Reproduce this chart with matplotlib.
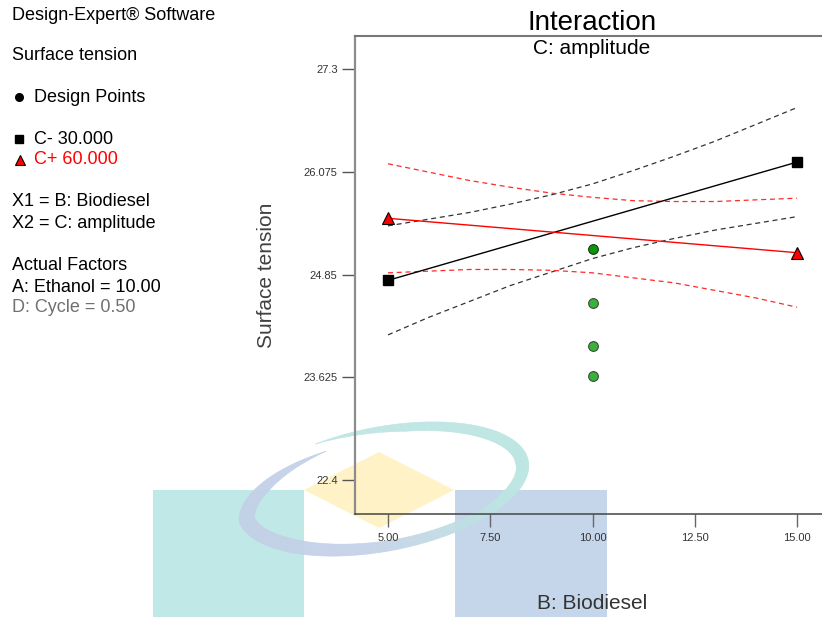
import numpy as np
import matplotlib
matplotlib.use("Agg")
import matplotlib.pyplot as plt
from matplotlib.patches import Rectangle, Polygon
from matplotlib.collections import PolyCollection

plt.rcParams['font.family'] = ['Liberation Sans', 'DejaVu Sans']

# ---- model predictions for the B x C interaction ----
biodiesel_ends = [5.0, 15.0]
c_minus_pred = [24.78, 26.19]   # C- = 30.000
c_plus_pred = [25.52, 25.11]    # C+ = 60.000

# 95% confidence bands along B
band_x = [5, 6, 7, 8, 9, 10, 11, 12, 13, 14, 15]
c_minus_upper = [25.43, 25.51, 25.59, 25.69, 25.80, 25.93, 26.09, 26.26, 26.44, 26.64, 26.84]
c_minus_lower = [24.13, 24.34, 24.53, 24.72, 24.88, 25.04, 25.17, 25.28, 25.38, 25.46, 25.54]
c_plus_upper = [26.17, 26.07, 25.97, 25.89, 25.82, 25.77, 25.73, 25.72, 25.72, 25.74, 25.76]
c_plus_lower = [24.87, 24.89, 24.91, 24.91, 24.90, 24.87, 24.81, 24.75, 24.66, 24.57, 24.46]

# observed design points (centre of B)
design_x = [10.0, 10.0, 10.0, 10.0]
design_y = [25.15, 24.51, 24.00, 23.64]

x_ticks = [5.00, 7.50, 10.00, 12.50, 15.00]
x_tick_labels = ["5.00", "7.50", "10.00", "12.50", "15.00"]
y_ticks = [22.4, 23.625, 24.85, 26.075, 27.3]
y_tick_labels = ["22.4", "23.625", "24.85", "26.075", "27.3"]

W, H = 822, 617
fig = plt.figure(figsize=(W / 100, H / 100), dpi=100)

# ---- background layer (pixel coordinates) ----
bg = fig.add_axes([0, 0, 1, 1])
bg.set_xlim(0, W)
bg.set_ylim(H, 0)
bg.axis('off')

bg.add_patch(Rectangle((153, 490), 151, 130, facecolor='#c0e8e6', edgecolor='none', zorder=1))
bg.add_patch(Rectangle((455, 490), 152, 130, facecolor='#c5d5ea', edgecolor='none', zorder=1))
bg.add_patch(Polygon([(304, 490), (379, 452), (454, 490), (379, 528)], closed=True,
                     facecolor='#fef2c6', edgecolor='none', zorder=1))


def swoosh(ax):
    cx, cy, a, b, phi = 383, 489, 148, 62, np.deg2rad(11)
    t = np.linspace(0, 1, 500)
    th = np.deg2rad(113 - 360 * t)
    thick = np.interp(t, [0, .1, .31, .45, .56, .7, .81, .9, 1],
                      [0, 8, 13, 9, 10, 14, 16, 10, 0])
    s = np.interp(t, [0, .8, 1], [1, 1, .84])
    u = a * s * np.cos(th)
    v = b * s * np.sin(th)
    nu = b * np.cos(th)
    nv = a * np.sin(th)
    n = np.hypot(nu, nv)
    ui = u - thick * nu / n
    vi = v - thick * nv / n

    def to_px(uu, vv):
        return (cx + uu * np.cos(phi) - vv * np.sin(phi),
                cy - (uu * np.sin(phi) + vv * np.cos(phi)))

    xo, yo = to_px(u, v)
    xi, yi = to_px(ui, vi)
    teal = np.array([0.74, 0.90, 0.89])
    blue = np.array([0.77, 0.82, 0.91])
    polys, cols = [], []
    for k in range(len(t) - 1):
        polys.append([(xo[k], yo[k]), (xo[k + 1], yo[k + 1]),
                      (xi[k + 1], yi[k + 1]), (xi[k], yi[k])])
        f = np.clip((t[k] - 0.42) / 0.18, 0, 1)
        cols.append(tuple(teal * (1 - f) + blue * f) + (0.9,))
    ax.add_collection(PolyCollection(polys, facecolors=cols, edgecolors=cols,
                                     linewidths=0.4, zorder=2))


swoosh(bg)

# ---- side panel text ----
side = dict(fontsize=13, va='center', ha='left')
bg.text(12, 16, 'Design-Expert® Software', color='black', **side)
bg.text(12, 56, 'Surface tension', color='black', **side)
bg.plot([19], [97], 'o', ms=5.5, color='black', zorder=3)
bg.text(34, 98, 'Design Points', color='black', **side)
bg.plot([19], [139], 's', ms=6, color='black', zorder=3)
bg.text(34, 140, 'C- 30.000', color='black', **side)
bg.plot([20], [160], '^', ms=6.5, mfc='red', mec='black', mew=0.8, zorder=3)
bg.text(34, 160, 'C+ 60.000', color='red', **side)
bg.text(12, 202, 'X1 = B: Biodiesel', color='black', **side)
bg.text(12, 224, 'X2 = C: amplitude', color='black', **side)
bg.text(12, 266, 'Actual Factors', color='black', **side)
bg.text(12, 287, 'A: Ethanol = 10.00', color='black', **side)
bg.text(12, 307, 'D: Cycle = 0.50', color='#707070', **side)

# ---- interaction plot ----
ax_left, ax_right, ax_top, ax_bottom = 355, 829, 36, 514
ax = fig.add_axes([ax_left / W, 1 - ax_bottom / H,
                   (ax_right - ax_left) / W, (ax_bottom - ax_top) / H])
ax.set_facecolor('none')

px_per_x = 40.9
px_per_y = 83.88
ax.set_xlim(5 - (388 - ax_left) / px_per_x, 5 + (ax_right - 388) / px_per_x)
ax.set_ylim(22.4 - (ax_bottom - 480) / px_per_y, 27.3 + (69 - ax_top) / px_per_y)

dash = (0, (4, 3))
ax.plot(band_x, c_minus_upper, color='#333333', lw=0.9, ls=dash, zorder=2)
ax.plot(band_x, c_minus_lower, color='#333333', lw=0.9, ls=dash, zorder=2)
ax.plot(band_x, c_plus_upper, color='#ff2a2a', lw=0.9, ls=dash, zorder=2)
ax.plot(band_x, c_plus_lower, color='#ff2a2a', lw=0.9, ls=dash, zorder=2)

ax.plot(biodiesel_ends, c_minus_pred, color='black', lw=1.0, zorder=3)
ax.plot(biodiesel_ends, c_plus_pred, color='red', lw=1.0, zorder=3)
ax.plot(biodiesel_ends, c_minus_pred, 's', ms=7.5, mfc='black', mec='black', zorder=4)
ax.plot(biodiesel_ends, c_plus_pred, '^', ms=9, mfc='red', mec='black', mew=0.8, zorder=4)

ax.plot(design_x[:1], design_y[:1], 'o', ms=7, mfc='#0a960a', mec='#1a3a1a', mew=0.8, zorder=4)
ax.plot(design_x[1:], design_y[1:], 'o', ms=7, mfc='#3cb03c', mec='#3a4a3a', mew=0.8, zorder=4)

ax.set_xticks(x_ticks)
ax.set_xticklabels(x_tick_labels)
ax.set_yticks(y_ticks)
ax.set_yticklabels(y_tick_labels)
ax.tick_params(axis='x', direction='out', length=9.5, width=1.0, color='#666666',
               pad=4, labelsize=8, labelcolor='#333333')
ax.tick_params(axis='y', direction='out', length=9.5, width=1.0, color='#555555',
               pad=3, labelsize=8, labelcolor='#333333')

ax.spines['right'].set_visible(False)
ax.spines['left'].set_color('#8c8c8c')
ax.spines['left'].set_linewidth(1.6)
ax.spines['top'].set_color('#777777')
ax.spines['top'].set_linewidth(1.5)
ax.spines['bottom'].set_color('#444444')
ax.spines['bottom'].set_linewidth(1.1)

ax.set_title('Interaction', fontsize=20, pad=4)
ax.text(0.5, 1 - 12 / (ax_bottom - ax_top), 'C: amplitude', transform=ax.transAxes,
        ha='center', va='center', fontsize=15)
ax.set_ylabel('Surface tension', fontsize=15, color='#404040')
ax.yaxis.set_label_coords((276 - ax_left) / (ax_right - ax_left), 0.5)
ax.set_xlabel('B: Biodiesel', fontsize=15, color='#333333')
ax.xaxis.set_label_coords(0.5, (ax_bottom - 594) / (ax_bottom - ax_top))

fig.savefig('out.png', dpi=100)
